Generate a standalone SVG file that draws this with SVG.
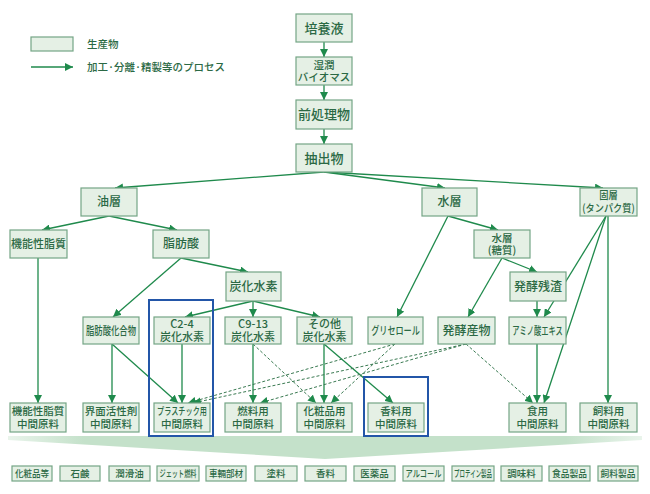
<svg xmlns="http://www.w3.org/2000/svg" width="650" height="494" viewBox="0 0 650 494">
<defs>
<marker id="ah" markerUnits="userSpaceOnUse" markerWidth="9" markerHeight="8" refX="8" refY="4" orient="auto">
<path d="M0,0 L8,4 L0,8 z" fill="#1f8a4c"/>
</marker>
<linearGradient id="band" x1="0" y1="0" x2="1" y2="0">
<stop offset="0" stop-color="#e9f4eb"/>
<stop offset="0.12" stop-color="#c4e1ca"/>
<stop offset="0.88" stop-color="#c4e1ca"/>
<stop offset="1" stop-color="#e9f4eb"/>
</linearGradient>
<style>
.b{fill:#e5f0e5;stroke:#74a585;stroke-width:1.2}
.t{font-family:"Noto Sans CJK JP","Noto Sans",sans-serif;fill:#2b6944;text-anchor:middle;font-weight:500}
.s13{font-size:13px}
.s12{font-size:12px}
.s11{font-size:11px}
.s2{font-size:10.5px}
.s9{font-size:9.5px}
.c{stroke:#1f8a4c;stroke-width:1.3;fill:none;marker-end:url(#ah)}
.d{stroke:#3a7a52;stroke-width:1;stroke-dasharray:3 2;fill:none;marker-end:url(#ah)}
.blue{fill:none;stroke:#2356a8;stroke-width:2}
.lg{font-family:"Noto Sans CJK JP","Noto Sans",sans-serif;fill:#2b6944;font-size:10.5px;font-weight:500}
</style>
</defs>
<rect width="650" height="494" fill="#ffffff"/>

<g id="legend">
<rect class="b" x="31" y="37" width="42" height="14"/>
<text class="lg" x="87" y="48">生産物</text>
<line x1="31" y1="67" x2="73" y2="67" class="c"/>
<text class="lg" x="87" y="70.5">加工·分離·精製等のプロセス</text>
</g>

<g id="band-shape">
<polygon points="8,436 642,436 642,440 325,459 8,440" fill="url(#band)"/>
</g>

<g id="connectors">
<line class="c" x1="324" y1="42" x2="324" y2="57"/>
<line class="c" x1="324" y1="85" x2="324" y2="100"/>
<line class="c" x1="324" y1="129" x2="324" y2="144"/>
<line class="c" x1="324" y1="172" x2="115" y2="188"/>
<line class="c" x1="324" y1="172" x2="445" y2="188"/>
<line class="c" x1="324" y1="172" x2="603" y2="188"/>
<line class="c" x1="109" y1="216" x2="42" y2="230"/>
<line class="c" x1="109" y1="216" x2="177" y2="230"/>
<line class="c" x1="181" y1="258" x2="248" y2="272"/>
<line class="c" x1="181" y1="258" x2="113" y2="317"/>
<line class="c" x1="38" y1="258" x2="38" y2="403"/>
<line class="c" x1="253" y1="301" x2="185" y2="317"/>
<line class="c" x1="253" y1="301" x2="253" y2="317"/>
<line class="c" x1="253" y1="301" x2="320" y2="317"/>
<line class="c" x1="112" y1="344" x2="112" y2="403"/>
<line class="c" x1="112" y1="344" x2="178" y2="403"/>
<line class="c" x1="182" y1="344" x2="182" y2="403"/>
<line class="c" x1="253" y1="344" x2="253" y2="403"/>
<line class="d" x1="253" y1="344" x2="316" y2="403"/>
<line class="c" x1="324" y1="344" x2="324" y2="403"/>
<line class="c" x1="324" y1="344" x2="393" y2="403"/>
<line class="d" x1="395" y1="344" x2="188" y2="403"/>
<line class="d" x1="395" y1="344" x2="331" y2="403"/>
<line class="d" x1="466" y1="344" x2="193" y2="403"/>
<line class="d" x1="466" y1="344" x2="260" y2="403"/>
<line class="d" x1="466" y1="344" x2="533" y2="403"/>
<line class="c" x1="448" y1="216" x2="397" y2="317"/>
<line class="c" x1="448" y1="216" x2="498" y2="230"/>
<line class="c" x1="502" y1="258" x2="468" y2="317"/>
<line class="c" x1="502" y1="258" x2="537" y2="272"/>
<line class="c" x1="606" y1="216" x2="544" y2="317"/>
<line class="c" x1="606" y1="216" x2="544" y2="403"/>
<line class="c" x1="608" y1="216" x2="608" y2="403"/>
<line class="c" x1="537" y1="301" x2="537" y2="317"/>
<line class="c" x1="537" y1="344" x2="537" y2="403"/>
</g>

<g id="n-baiyoueki"><rect class="b" x="296" y="14" width="56" height="28"/><text class="t s13" x="324" y="32.5">培養液</text></g>
<g id="n-shitsujun"><rect class="b" x="296" y="57" width="56" height="28"/><text class="t s2"><tspan x="324" y="68.5">湿潤</tspan><tspan x="324" y="81">バイオマス</tspan></text></g>
<g id="n-maeshori"><rect class="b" x="296" y="100" width="56" height="29"/><text class="t s13" x="324" y="119">前処理物</text></g>
<g id="n-chushutsu"><rect class="b" x="296" y="144" width="56" height="28"/><text class="t s13" x="324" y="162.5">抽出物</text></g>

<g id="n-yuso"><rect class="b" x="81" y="188" width="56" height="28"/><text class="t s12" x="109" y="206">油層</text></g>
<g id="n-suiso"><rect class="b" x="422" y="188" width="55" height="28"/><text class="t s12" x="449.5" y="206">水層</text></g>
<g id="n-koso"><rect class="b" x="580" y="188" width="57" height="28"/><text class="t s2" transform="translate(608.5,0) scale(0.88,1)"><tspan x="0" y="199.5">固層</tspan><tspan x="0" y="212">(タンパク質)</tspan></text></g>

<g id="n-kinosei"><rect class="b" x="10" y="230" width="57" height="28"/><text class="t s11" x="38.5" y="248">機能性脂質</text></g>
<g id="n-shibosan"><rect class="b" x="153" y="230" width="56" height="28"/><text class="t s12" x="181" y="248">脂肪酸</text></g>
<g id="n-toshitsu"><rect class="b" x="474" y="230" width="56" height="28"/><text class="t s2"><tspan x="502" y="241.5">水層</tspan><tspan x="502" y="254">(糖質)</tspan></text></g>

<g id="n-tankasuiso"><rect class="b" x="226" y="272" width="55" height="29"/><text class="t s12" x="253.5" y="291">炭化水素</text></g>
<g id="n-hakkozansa"><rect class="b" x="510" y="272" width="56" height="29"/><text class="t s12" x="538" y="291">発酵残渣</text></g>

<g id="n-shibosankago"><rect class="b" x="83" y="317" width="56" height="27"/><text class="t s11" transform="translate(111,334.5) scale(0.76,1)">脂肪酸化合物</text></g>
<g id="n-c24"><rect class="b" x="154" y="317" width="56" height="27"/><text class="t s11"><tspan x="182" y="328">C2-4</tspan><tspan x="182" y="340.5">炭化水素</tspan></text></g>
<g id="n-c913"><rect class="b" x="225" y="317" width="56" height="27"/><text class="t s11"><tspan x="253" y="328">C9-13</tspan><tspan x="253" y="340.5">炭化水素</tspan></text></g>
<g id="n-sonota"><rect class="b" x="297" y="317" width="55" height="27"/><text class="t s11"><tspan x="324.5" y="328">その他</tspan><tspan x="324.5" y="340.5">炭化水素</tspan></text></g>
<g id="n-glycerol"><rect class="b" x="368" y="317" width="55" height="27"/><text class="t s11" transform="translate(395.5,334.5) scale(0.74,1)">グリセロール</text></g>
<g id="n-hakkosanbutsu"><rect class="b" x="438" y="317" width="57" height="27"/><text class="t s12" x="466.5" y="335">発酵産物</text></g>
<g id="n-amino"><rect class="b" x="509" y="317" width="57" height="27"/><text class="t s11" transform="translate(537.5,334.5) scale(0.66,1)">アミノ酸エキス</text></g>

<g id="n-m-kinosei"><rect class="b" x="10" y="403" width="56" height="29"/><text class="t s2"><tspan x="38" y="414.5">機能性脂質</tspan><tspan x="38" y="427.5">中間原料</tspan></text></g>
<g id="n-m-kaimen"><rect class="b" x="83" y="403" width="56" height="29"/><text class="t s2"><tspan x="111" y="414.5">界面活性剤</tspan><tspan x="111" y="427.5">中間原料</tspan></text></g>
<g id="n-m-plastic"><rect class="b" x="154" y="403" width="56" height="29"/><text class="t s2" transform="translate(182,414.5) scale(0.68,1)">プラスチック用</text><text class="t s2" x="182" y="427.5">中間原料</text></g>
<g id="n-m-nenryo"><rect class="b" x="225" y="403" width="56" height="29"/><text class="t s2"><tspan x="253" y="414.5">燃料用</tspan><tspan x="253" y="427.5">中間原料</tspan></text></g>
<g id="n-m-keshohin"><rect class="b" x="297" y="403" width="55" height="29"/><text class="t s2"><tspan x="324.5" y="414.5">化粧品用</tspan><tspan x="324.5" y="427.5">中間原料</tspan></text></g>
<g id="n-m-koryo"><rect class="b" x="368" y="403" width="56" height="29"/><text class="t s2"><tspan x="396" y="414.5">香料用</tspan><tspan x="396" y="427.5">中間原料</tspan></text></g>
<g id="n-m-shoku"><rect class="b" x="509" y="403" width="57" height="29"/><text class="t s2"><tspan x="537.5" y="414.5">食用</tspan><tspan x="537.5" y="427.5">中間原料</tspan></text></g>
<g id="n-m-shiryo"><rect class="b" x="580" y="403" width="57" height="29"/><text class="t s2"><tspan x="608.5" y="414.5">飼料用</tspan><tspan x="608.5" y="427.5">中間原料</tspan></text></g>

<g id="highlights">
<rect class="blue" x="149" y="300" width="64" height="136"/>
<rect class="blue" x="364" y="377" width="64" height="59"/>
</g>

<g id="products">
<g id="p1"><rect class="b" x="12" y="466" width="40" height="15"/><text class="t s9" transform="translate(32,477) scale(0.9,1)">化粧品等</text></g>
<g id="p2"><rect class="b" x="60" y="466" width="40" height="15"/><text class="t s9" x="80" y="477">石鹸</text></g>
<g id="p3"><rect class="b" x="109" y="466" width="41" height="15"/><text class="t s9" x="129.5" y="477">潤滑油</text></g>
<g id="p4"><rect class="b" x="157" y="466" width="42" height="15"/><text class="t s9" transform="translate(178,477) scale(0.65,1)">ジェット燃料</text></g>
<g id="p5"><rect class="b" x="206" y="466" width="40" height="15"/><text class="t s9" transform="translate(226,477) scale(0.9,1)">車輛部材</text></g>
<g id="p6"><rect class="b" x="255" y="466" width="42" height="15"/><text class="t s9" x="276" y="477">塗料</text></g>
<g id="p7"><rect class="b" x="305" y="466" width="41" height="15"/><text class="t s9" x="325.5" y="477">香料</text></g>
<g id="p8"><rect class="b" x="354" y="466" width="41" height="15"/><text class="t s9" x="374.5" y="477">医薬品</text></g>
<g id="p9"><rect class="b" x="403" y="466" width="41" height="15"/><text class="t s9" transform="translate(423.5,477) scale(0.76,1)">アルコール</text></g>
<g id="p10"><rect class="b" x="452" y="466" width="42" height="15"/><text class="t s9" transform="translate(473,477) scale(0.57,1)">プロテイン製品</text></g>
<g id="p11"><rect class="b" x="501" y="466" width="41" height="15"/><text class="t s9" x="521.5" y="477">調味料</text></g>
<g id="p12"><rect class="b" x="549" y="466" width="41" height="15"/><text class="t s9" transform="translate(569.5,477) scale(0.92,1)">食品製品</text></g>
<g id="p13"><rect class="b" x="598" y="466" width="40" height="15"/><text class="t s9" transform="translate(618,477) scale(0.92,1)">飼料製品</text></g>
</g>
</svg>
